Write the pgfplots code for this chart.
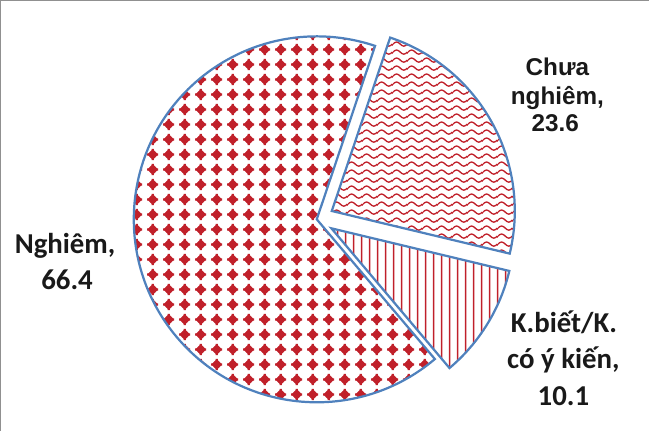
\documentclass[border=0pt]{standalone}
\usepackage{fontspec}
\setmainfont{Carlito}
\newfontfamily\arialb{Liberation Sans}
\usepackage{pgfplots}
\pgfplotsset{compat=1.18}
\usepackage{pgfplotstable}
\usetikzlibrary{patterns.meta}
\definecolor{pred}{HTML}{C0202A}
\definecolor{pblue}{HTML}{4F81BD}
\definecolor{framegray}{HTML}{909090}

\tikzdeclarepattern{
  name=diadots, type=colored,
  bounding box={(0bp,0bp) and (16bp,15.3bp)},
  tile size={(16bp,15.3bp)},
  code={
    \fill[pred] (8bp,7.65bp) circle (3.9bp);
    \fill[pred] (8bp,2.1bp) -- (13.5bp,7.65bp) -- (8bp,13.2bp) -- (2.5bp,7.65bp) -- cycle;
    \fill[pred] (6.9bp,1.9bp) rectangle (9.1bp,13.4bp);
    \fill[pred] (2.3bp,6.55bp) rectangle (13.7bp,8.75bp);
  }
}
\tikzdeclarepattern{
  name=waves, type=colored,
  bounding box={(0bp,0bp) and (15bp,8.3bp)},
  tile size={(15bp,8.3bp)},
  code={
    \draw[pred, line width=1.4bp] (-0.5bp,4.15bp) -- (0bp,4.15bp) sin (3.75bp,6.35bp) cos (7.5bp,4.15bp) sin (11.25bp,1.95bp) cos (15bp,4.15bp) -- (15.5bp,4.15bp);
  }
}
\tikzdeclarepattern{
  name=vlines, type=colored,
  bounding box={(0bp,0bp) and (7.5bp,7.5bp)},
  tile size={(7.5bp,7.5bp)},
  code={
    \draw[pred, line width=1.7bp] (3.75bp,-1bp) -- (3.75bp,8.5bp);
  }
}

\pgfplotstableread{
label value
Chua 23.6
Kbiet 10.1
Nghiem 66.4
}\piedata
\pgfplotstablegetelem{0}{value}\of\piedata \pgfmathsetmacro\va{\pgfplotsretval}
\pgfplotstablegetelem{1}{value}\of\piedata \pgfmathsetmacro\vb{\pgfplotsretval}
\pgfplotstablegetelem{2}{value}\of\piedata \pgfmathsetmacro\vc{\pgfplotsretval}
\pgfmathsetmacro\tot{\va+\vb+\vc}
\pgfmathsetmacro\aA{71.4}
\pgfmathsetmacro\aB{\aA-\va/\tot*360}
\pgfmathsetmacro\aC{\aB-\vb/\tot*360}
\pgfmathsetmacro\aD{\aC-\vc/\tot*360}
\pgfmathsetmacro\mA{(\aA+\aB)/2}
\pgfmathsetmacro\mB{(\aB+\aC)/2}
\def\cx{321}\def\cy{209}\def\rr{181bp}\def\ex{17}
\pgfmathsetmacro\cAx{\cx+\ex*cos(\mA)}
\pgfmathsetmacro\cAy{\cy+\ex*sin(\mA)}
\pgfmathsetmacro\cBx{\cx+\ex*cos(\mB)}
\pgfmathsetmacro\cBy{\cy+\ex*sin(\mB)}

\begin{document}
\begin{tikzpicture}
\begin{axis}[width=650bp, height=434bp, scale only axis,
  xmin=0, xmax=650, ymin=0, ymax=434, hide axis, clip=false]
  % frame
  \draw[framegray, line width=1.3bp] (axis cs:8.3,0) -- (axis cs:8.3,425.3) -- (axis cs:650,425.3);
  % slices
  \filldraw[pattern=diadots, draw=pblue, line width=2.2bp, line join=miter]
    (axis cs:\cx,\cy) -- ++(\aC:\rr) arc[start angle=\aC, end angle=\aD, radius=\rr] -- cycle;
  \filldraw[pattern=waves, draw=pblue, line width=2.2bp, line join=miter]
    (axis cs:\cAx,\cAy) -- ++(\aA:\rr) arc[start angle=\aA, end angle=\aB, radius=\rr] -- cycle;
  \filldraw[pattern=vlines, draw=pblue, line width=2.2bp, line join=miter]
    (axis cs:\cBx,\cBy) -- ++(\aB:\rr) arc[start angle=\aB, end angle=\aC, radius=\rr] -- cycle;
  % labels
  \node[anchor=base, inner sep=0pt, font=\arialb\bfseries\fontsize{24bp}{27bp}\selectfont, text=black!90] at (axis cs:559,351) {Chưa};
  \node[anchor=base, inner sep=0pt, font=\arialb\bfseries\fontsize{24bp}{27bp}\selectfont, text=black!90] at (axis cs:559,323) {nghiêm,};
  \node[anchor=base, inner sep=0pt, font=\arialb\bfseries\fontsize{24bp}{27bp}\selectfont, text=black!90] at (axis cs:557,296) {23.6};
  \node[anchor=base, inner sep=0pt, font=\bfseries\fontsize{28.5bp}{34bp}\selectfont, text=black!90] at (axis cs:72,175) {Nghiêm,};
  \node[anchor=base, inner sep=0pt, font=\bfseries\fontsize{28.5bp}{34bp}\selectfont, text=black!90] at (axis cs:74,140) {66.4};
  \node[anchor=base, inner sep=0pt, font=\bfseries\fontsize{28.5bp}{34bp}\selectfont, text=black!90] at (axis cs:565.5,97) {K.biết/K.};
  \node[anchor=base, inner sep=0pt, font=\bfseries\fontsize{28.5bp}{34bp}\selectfont, text=black!90] at (axis cs:565,61) {có ý kiến,};
  \node[anchor=base, inner sep=0pt, font=\bfseries\fontsize{28.5bp}{34bp}\selectfont, text=black!90] at (axis cs:565,25) {10.1};
\end{axis}
\end{tikzpicture}
\end{document}
